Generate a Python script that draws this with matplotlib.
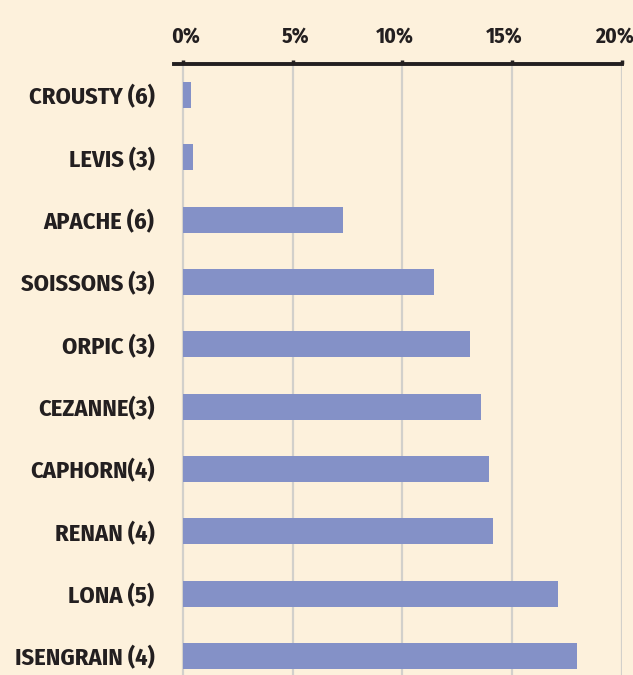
import matplotlib
matplotlib.use("Agg")
import matplotlib.pyplot as plt
from matplotlib.transforms import offset_copy

# data (share in %)
varieties = ["CROUSTY (6)", "LEVIS (3)", "APACHE (6)", "SOISSONS (3)", "ORPIC (3)",
             "CEZANNE(3)", "CAPHORN(4)", "RENAN (4)", "LONA (5)", "ISENGRAIN (4)"]
shares = [0.35, 0.45, 7.3, 11.45, 13.1, 13.6, 13.95, 14.15, 17.1, 17.95]
tick_values = [0, 5, 10, 15, 20]
tick_labels = ["0%", "5%", "10%", "15%", "20%"]

BG = "#FDF1DC"
BAR = "#8491C7"
GRID = "#D2D0CB"
INK = "#231F20"

plt.rcParams["font.family"] = ["Fira Sans Condensed", "Roboto Condensed", "DejaVu Sans"]

fig = plt.figure(figsize=(6.33, 6.75), dpi=100, facecolor=BG)
ax = fig.add_axes([174 / 633, 0.0, 448 / 633, 611 / 675])
ax.set_facecolor(BG)

pos = list(range(len(varieties)))
ax.grid(axis="x", color=GRID, linewidth=1.6, zorder=0)
ax.set_axisbelow(True)
ax.barh(pos, shares, height=0.42, color=BAR, zorder=2)

ax.set_xlim(-0.41, 20.02)
ax.set_ylim(9.305, -0.497)

ax.xaxis.tick_top()
ax.set_xticks(tick_values)
ax.set_xticklabels(tick_labels, fontsize=15.5, fontweight="bold", color=INK)
ax.tick_params(axis="x", direction="out", length=3, width=2.5, color=INK, pad=9.5)

# the printed labels sit a bit off their ticks, more so on the right
nudges = [3, 3, -7, -8, -7]
for lab, dx in zip(ax.get_xticklabels(), nudges):
    lab.set_transform(offset_copy(lab.get_transform(), fig=fig, x=dx, y=0, units="dots"))

ax.set_yticks(pos)
ax.set_yticklabels(varieties, fontsize=17.5, fontweight="bold", color=INK)
ax.tick_params(axis="y", length=0, pad=14)

for side in ["left", "right", "bottom"]:
    ax.spines[side].set_visible(False)
ax.spines["top"].set_linewidth(2.8)
ax.spines["top"].set_color(INK)

fig.savefig("out.png", dpi=100, facecolor=BG)
